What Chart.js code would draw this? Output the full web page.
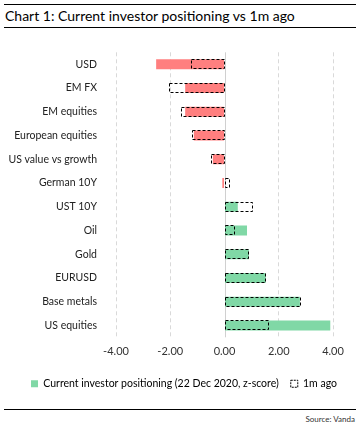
<!DOCTYPE html>
<html><head><meta charset="utf-8">
<script src="https://cdn.jsdelivr.net/npm/chart.js@4/dist/chart.umd.min.js"></script>
<style>
html,body{margin:0;padding:0;background:#fff;}
body{width:360px;height:430px;position:relative;overflow:hidden;font-family:Lato,"Open Sans",sans-serif;}
#t1{position:absolute;left:4px;top:4px;width:352px;border-top:1.5px solid #000;}
#title{position:absolute;left:5px;top:7px;font-size:14px;color:#000;white-space:nowrap;}
#t2{position:absolute;left:4px;top:27px;width:352px;border-top:1.5px solid #000;}
#b1{position:absolute;left:4px;top:409px;width:352px;border-top:1.5px solid #000;}
#src{position:absolute;right:5px;top:414px;font-size:8px;color:#333;}
#wrap{position:absolute;left:0;top:35px;width:360px;height:366px;}
</style></head>
<body>
<div id="t1"></div>
<div id="title">Chart 1: Current investor positioning vs 1m ago</div>
<div id="t2"></div>
<div id="wrap"><canvas id="c"></canvas></div>
<div id="b1"></div>
<div id="src">Source: Vanda</div>
<script>
const categories = ["USD","EM FX","EM equities","European equities","US value vs growth","German 10Y","UST 10Y","Oil","Gold","EURUSD","Base metals","US equities"];
const currentValues = [-2.52,-1.45,-1.45,-1.13,-0.43,-0.08,0.49,0.83,0.90,1.52,2.78,3.90];
const monthAgoValues = [-1.25,-2.03,-1.59,-1.18,-0.48,0.16,1.00,0.35,0.88,1.50,2.78,1.60];
const xTicks = [-4,-2,0,2,4];

const RED = "#FF7F7F", GREEN = "#80D8A6";

const dashedBars = {
  id: "dashedBars",
  afterLayout(chart) {
    if (chart.legend) { chart.legend.left = 8; chart.legend.right = 360; }
  },
  afterDatasetsDraw(chart) {
    const ctx = chart.ctx;
    const meta = chart.getDatasetMeta(1);
    ctx.save();
    ctx.strokeStyle = "#000";
    ctx.lineWidth = 1;
    ctx.setLineDash([3, 2]);
    meta.data.forEach(el => {
      const p = el.getProps(["x","y","base","height"], true);
      const l = Math.min(p.x, p.base), r = Math.max(p.x, p.base);
      const t = p.y - p.height/2;
      ctx.strokeRect(Math.round(l)+0.5, Math.round(t)+0.5, Math.round(r-l), Math.round(p.height)-1);
    });
    ctx.restore();
  },
  beforeDatasetsDraw(chart) {
    const ctx = chart.ctx, xs = chart.scales.x, a = chart.chartArea;
    const x0 = Math.round(xs.getPixelForValue(0)) + 0.5;
    ctx.save();
    ctx.strokeStyle = "#d0d0d0";
    ctx.lineWidth = 1;
    ctx.beginPath(); ctx.moveTo(x0, a.top); ctx.lineTo(x0, a.bottom); ctx.stroke();
    ctx.restore();
  }
};

new Chart(document.getElementById("c"), {
  type: "bar",
  data: {
    labels: categories,
    datasets: [
      { label: "Current investor positioning (22 Dec 2020, z-score)", data: currentValues,
        backgroundColor: currentValues.map(v => v < 0 ? RED : GREEN), borderWidth: 0, grouped: false,
        categoryPercentage: 1, barPercentage: 0.42 },
      { label: "1m ago", data: monthAgoValues, backgroundColor: "rgba(0,0,0,0)", borderWidth: 0, grouped: false,
        categoryPercentage: 1, barPercentage: 0.42 }
    ]
  },
  options: {
    indexAxis: "y",
    responsive: true,
    maintainAspectRatio: false,
    animation: false,
    layout: { padding: { top: 11, right: 27, left: 0, bottom: 2 } },
    scales: {
      x: {
        min: -4, max: 4,
        afterBuildTicks(s) { s.ticks = xTicks.map(v => ({ value: v })); },
        ticks: { callback: v => Number(v).toFixed(2), color: "#333", font: { family: "Lato", size: 11 }, padding: 8 },
        grid: { color: ctx => (ctx.tick && ctx.tick.value === 0) ? "rgba(0,0,0,0)" : "#d9d9d9", drawTicks: false, lineWidth: 1 },
        border: { display: false, dash: [4, 3] }
      },
      y: {
        afterFit(s) { s.width = 116; },
        ticks: { color: "#222", font: { family: "Lato", size: 10.5 }, padding: 11 },
        grid: { display: false },
        border: { display: false }
      }
    },
    plugins: {
      legend: {
        position: "bottom",
        labels: {
          color: "#222", font: { family: "Lato", size: 10.5 }, boxWidth: 7, boxHeight: 7, padding: 12,
          generateLabels() {
            return [
              { text: "Current investor positioning (22 Dec 2020, z-score)", fillStyle: GREEN, strokeStyle: GREEN, lineWidth: 0, datasetIndex: 0 },
              { text: "1m ago", fillStyle: "rgba(0,0,0,0)", strokeStyle: "#000", lineWidth: 1, lineDash: [2, 1], datasetIndex: 1 }
            ];
          }
        }
      },
      tooltip: { enabled: false }
    }
  },
  plugins: [dashedBars]
});
</script>
</body></html>
